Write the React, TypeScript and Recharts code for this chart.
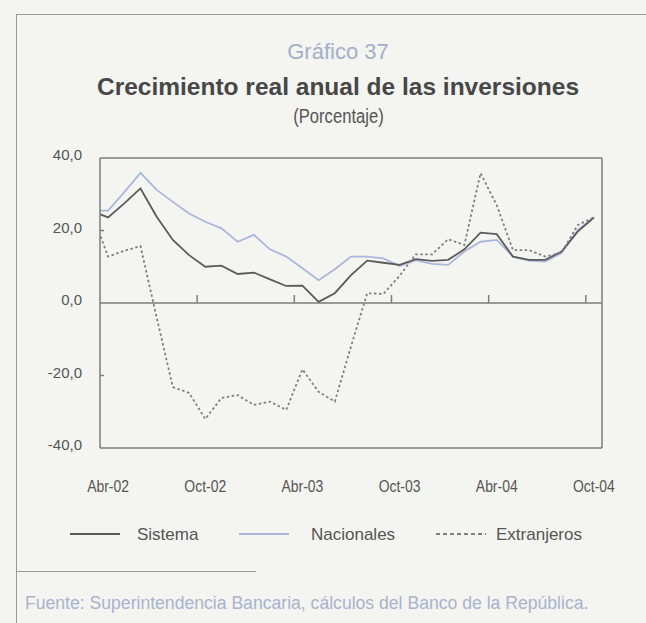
import React from 'react';
import { LineChart, Line, XAxis, YAxis, ReferenceLine, Legend } from 'recharts';

const months = [
  'Mar-02', 'Abr-02', 'May-02', 'Jun-02', 'Jul-02', 'Ago-02', 'Sep-02', 'Oct-02', 'Nov-02', 'Dic-02',
  'Ene-03', 'Feb-03', 'Mar-03', 'Abr-03', 'May-03', 'Jun-03', 'Jul-03', 'Ago-03', 'Sep-03', 'Oct-03',
  'Nov-03', 'Dic-03', 'Ene-04', 'Feb-04', 'Mar-04', 'Abr-04', 'May-04', 'Jun-04', 'Jul-04', 'Ago-04',
  'Sep-04', 'Oct-04',
];

const sistema = [
  25.4, 23.6, 27.5, 31.6, 23.8, 17.4, 13.2, 10.0, 10.3, 8.0,
  8.4, 6.5, 4.7, 4.8, 0.3, 2.7, 7.7, 11.7, 11.1, 10.5,
  12.1, 11.6, 11.9, 14.8, 19.4, 19.0, 12.8, 11.9, 11.9, 14.2,
  19.7, 23.6,
];

const nacionales = [
  25.5, 25.5, 30.6, 35.9, 31.2, 27.9, 24.7, 22.4, 20.6, 16.9,
  18.8, 14.8, 12.8, 9.6, 6.3, 9.3, 12.8, 12.8, 12.3, 10.2,
  11.8, 10.8, 10.5, 14.2, 16.9, 17.4, 12.8, 11.7, 11.4, 13.8,
  20.1, 23.6,
];

const extranjeros = [
  24.8, 12.8, 14.4, 15.7, -4.0, -23.2, -24.8, -32.0, -26.2, -25.4,
  -28.1, -27.2, -29.5, -18.3, -24.5, -27.2, -12.0, 2.7, 2.5, 7.5,
  13.4, 13.4, 17.6, 16.0, 35.8, 27.0, 14.6, 14.6, 12.8, 13.9,
  21.5, 23.6,
];

const yTicks = [-40, -20, 0, 20, 40];
const xTickLabels = ['Abr-02', 'Oct-02', 'Abr-03', 'Oct-03', 'Abr-04', 'Oct-04'];

const seriesNames = ['Sistema', 'Nacionales', 'Extranjeros'];

const data = months.map((m, i) => ({
  x: i - 0.5,
  month: m,
  Sistema: sistema[i],
  Nacionales: nacionales[i],
  Extranjeros: extranjeros[i],
}));

const xTicks = xTickLabels.map((l) => months.indexOf(l) - 0.5);
const xTickMarks = xTicks.slice(1).map((t) => t - 0.5);

const FONT = "'Liberation Sans', Arial, sans-serif";
const FRAME = '#7d7d7d';
const TEXT = '#555555';

const XTick = (props: any) => {
  const { x, y, payload } = props;
  const label = months[Math.round(payload.value + 0.5)];
  return (
    <text
      transform={`translate(${x},${y + 44}) scale(0.82,1)`}
      x={0}
      y={0}
      textAnchor="middle"
      fontFamily={FONT}
      fontSize={17}
      fill={TEXT}
    >
      {label}
    </text>
  );
};

const YTick = (props: any) => {
  const { x, y, payload } = props;
  return (
    <text x={x} y={y + 2} textAnchor="end" fontFamily={FONT} fontSize={15} fill={TEXT}>
      {payload.value.toFixed(1).replace('.', ',')}
    </text>
  );
};

const legendPos = [
  { lx: 70, tx: 137 },
  { lx: 239, tx: 311 },
  { lx: 436, tx: 496 },
];

const legendDash: Record<string, string | undefined> = {
  Sistema: undefined,
  Nacionales: undefined,
  Extranjeros: '4 3',
};

const LegendContent = (props: any) => {
  const payload = [...(props.payload || [])].sort(
    (a: any, b: any) => seriesNames.indexOf(a.value) - seriesNames.indexOf(b.value),
  );
  return (
    <div style={{ position: 'relative', width: 646, height: 0 }}>
      {payload.map((p: any, i: number) => {
        const pos = legendPos[i];
        return (
          <React.Fragment key={p.value}>
            <svg style={{ position: 'absolute', left: pos.lx, top: 12 }} width={52} height={4}>
              <line
                x1={0}
                x2={50}
                y1={2}
                y2={2}
                stroke={p.color}
                strokeWidth={1.8}
                strokeDasharray={legendDash[p.value]}
              />
            </svg>
            <span
              style={{
                position: 'absolute',
                left: pos.tx,
                top: 3,
                fontFamily: FONT,
                fontSize: 17,
                color: TEXT,
                whiteSpace: 'nowrap',
                lineHeight: '24px',
              }}
            >
              {p.value}
            </span>
          </React.Fragment>
        );
      })}
    </div>
  );
};

export default function App() {
  return (
    <div
      style={{
        position: 'absolute',
        left: 0,
        top: 0,
        width: 646,
        height: 623,
        background: '#f4f4f0',
        overflow: 'hidden',
      }}
    >
      <div
        style={{
          position: 'absolute',
          left: 16,
          top: 14,
          width: 700,
          height: 700,
          borderTop: '1.5px solid #9a9a9a',
          borderLeft: '1.5px solid #9a9a9a',
        }}
      />
      <div
        style={{
          position: 'absolute',
          left: 0,
          width: 676,
          top: 37,
          textAlign: 'center',
          fontFamily: FONT,
          fontSize: 22,
          color: '#a3afca',
          lineHeight: '30px',
        }}
      >
        Gráfico 37
      </div>
      <div
        style={{
          position: 'absolute',
          left: 0,
          width: 676,
          top: 72,
          textAlign: 'center',
          fontFamily: FONT,
          fontWeight: 'bold',
          fontSize: 24.5,
          color: '#474747',
          lineHeight: '30px',
        }}
      >
        Crecimiento real anual de las inversiones
      </div>
      <div
        style={{
          position: 'absolute',
          left: 0,
          width: 676,
          top: 103,
          textAlign: 'center',
          lineHeight: '26px',
        }}
      >
        <span
          style={{
            display: 'inline-block',
            transform: 'scaleX(0.83)',
            fontFamily: FONT,
            fontSize: 20,
            color: TEXT,
          }}
        >
          (Porcentaje)
        </span>
      </div>
      <div style={{ position: 'absolute', left: 0, top: 0 }}>
        <LineChart
          width={646}
          height={623}
          data={data}
          margin={{ top: 158, right: 44, bottom: 135, left: 40 }}
        >
          <XAxis
            dataKey="x"
            type="number"
            domain={[0, 31]}
            ticks={xTicks}
            interval={0}
            allowDataOverflow
            height={40}
            tickSize={0}
            tickMargin={0}
            tickLine={false}
            axisLine={{ stroke: FRAME, strokeWidth: 1.5 }}
            tick={<XTick />}
          />
          <YAxis
            type="number"
            domain={[-40, 40]}
            ticks={yTicks}
            interval={0}
            allowDataOverflow
            width={60}
            tickSize={0}
            tickMargin={18}
            tickLine={false}
            axisLine={{ stroke: FRAME, strokeWidth: 1.5 }}
            tick={<YTick />}
          />
          <ReferenceLine y={40} stroke={FRAME} strokeWidth={1.5} />
          <ReferenceLine x={31} stroke={FRAME} strokeWidth={1.5} />
          <ReferenceLine y={0} stroke={FRAME} strokeWidth={1.5} />
          {xTickMarks.map((t) => (
            <ReferenceLine
              key={'xt' + t}
              segment={[
                { x: t, y: 0 },
                { x: t, y: 2.2 },
              ]}
              stroke={FRAME}
              strokeWidth={1.5}
            />
          ))}
          {yTicks
            .filter((v) => v !== 0 && Math.abs(v) !== 40)
            .map((v) => (
              <ReferenceLine
                key={'yt' + v}
                segment={[
                  { x: 0, y: v },
                  { x: 0.25, y: v },
                ]}
                stroke={FRAME}
                strokeWidth={1.5}
              />
            ))}
          <Line
            type="linear"
            dataKey={seriesNames[1]}
            stroke="#a9b7dc"
            strokeWidth={1.8}
            dot={false}
            isAnimationActive={false}
          />
          <Line
            type="linear"
            dataKey={seriesNames[0]}
            stroke="#5b5b5b"
            strokeWidth={1.8}
            dot={false}
            isAnimationActive={false}
          />
          <Line
            type="linear"
            dataKey={seriesNames[2]}
            stroke="#7f7f7f"
            strokeWidth={1.8}
            strokeDasharray="2.5 2.5"
            dot={false}
            isAnimationActive={false}
          />
          <Legend
            content={<LegendContent />}
            wrapperStyle={{ position: 'absolute', left: 0, top: 520, width: 646, height: 0 }}
          />
        </LineChart>
      </div>
      <div
        style={{
          position: 'absolute',
          left: 16,
          top: 571,
          width: 240,
          borderTop: '1.5px solid #9a9a9a',
        }}
      />
      <div
        style={{
          position: 'absolute',
          left: 25,
          top: 592,
          fontFamily: FONT,
          fontSize: 17.6,
          color: '#a9b3cc',
          whiteSpace: 'nowrap',
          lineHeight: '22px',
        }}
      >
        Fuente: Superintendencia Bancaria, cálculos del Banco de la República.
      </div>
    </div>
  );
}
